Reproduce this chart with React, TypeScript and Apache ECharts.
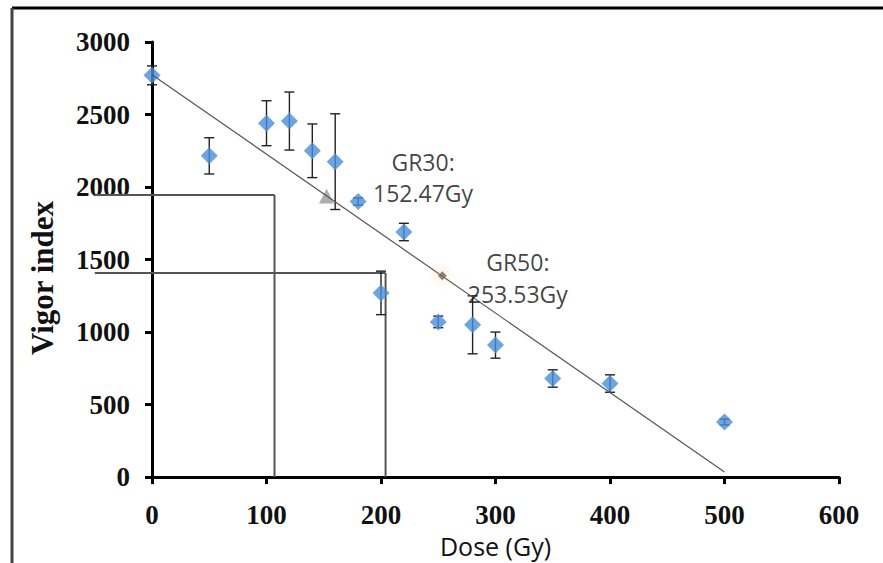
import React, { useEffect, useRef } from "react";
import * as echarts from "echarts";

// Dose (Gy) and vigor index means with error (±)
const doses = [0, 50, 100, 120, 140, 160, 180, 200, 220, 250, 280, 300, 350, 400, 500];
const vigor = [2770, 2215, 2440, 2455, 2250, 2175, 1900, 1270, 1690, 1070, 1050, 910, 680, 645, 380];
const errors = [65, 125, 155, 200, 185, 330, 25, 150, 60, 40, 200, 90, 60, 60, 20];

// Linear fit
const fitX = [0, 500];
const fitY = [2775, 35];

// GR30 / GR50 points
const gr30 = [152.47, 1939];
const gr50 = [253.53, 1388];
const gr30Label = "GR30:\n152.47Gy";
const gr50Label = "GR50:\n253.53Gy";

// Guide lines drawn on the figure
const guide1X = [-50, 107, 107];
const guide1Y = [1945, 1945, 0];
const guide2X = [-50, 204, 204];
const guide2Y = [1408, 1408, 0];

const xTicks = { min: 0, max: 600, interval: 100 };
const yTicks = { min: 0, max: 3000, interval: 500 };

function segments(xs: number[], ys: number[]) {
  const out: number[][] = [];
  for (let i = 0; i < xs.length - 1; i++) out.push([xs[i], ys[i], xs[i + 1], ys[i + 1]]);
  return out;
}

export default function App() {
  const ref = useRef<HTMLDivElement>(null);
  useEffect(() => {
    if (!ref.current) return;
    const chart = echarts.init(ref.current, null, { renderer: "svg" });
    const pts = doses.map((d, i) => [d, vigor[i]]);
    const errData = doses.map((d, i) => [d, vigor[i], errors[i]]);
    const guideData = [...segments(guide1X, guide1Y), ...segments(guide2X, guide2Y)];
    const tickFont = {
      fontFamily: "Liberation Serif",
      fontWeight: "bold" as const,
      fontSize: 27,
      color: "#111",
      formatter: (v: number) => String(v),
    };
    const annFont = {
      fontFamily: "Open Sans",
      fontSize: 23,
      color: "#111",
    };
    chart.setOption({
      animation: false,
      backgroundColor: "#fff",
      grid: { left: 152, right: 44, top: 42, bottom: 79 },
      xAxis: {
        type: "value",
        min: xTicks.min,
        max: xTicks.max,
        interval: xTicks.interval,
        name: "Dose (Gy)",
        nameLocation: "middle",
        nameGap: 40,
        nameTextStyle: { fontFamily: "Open Sans", fontSize: 25, color: "#111" },
        axisLine: { lineStyle: { color: "#000", width: 3 } },
        axisTick: { show: true, length: 7, lineStyle: { color: "#000", width: 3 } },
        axisLabel: { ...tickFont, margin: 24 },
        splitLine: { show: false },
      },
      yAxis: {
        type: "value",
        min: yTicks.min,
        max: yTicks.max,
        interval: yTicks.interval,
        axisLine: { show: true, lineStyle: { color: "#000", width: 3 } },
        axisTick: { show: true, length: 7, lineStyle: { color: "#000", width: 3 } },
        axisLabel: { ...tickFont, margin: 22 },
        splitLine: { show: false },
      },
      graphic: [
        {
          type: "line",
          shape: { x1: 12, y1: 8, x2: 883, y2: 8 },
          style: { stroke: "#000", lineWidth: 3 },
        },
        {
          type: "line",
          shape: { x1: 12, y1: 8, x2: 12, y2: 563 },
          style: { stroke: "#444", lineWidth: 3 },
        },
        {
          type: "text",
          x: 42,
          y: 278,
          rotation: Math.PI / 2,
          style: {
            text: "Vigor index",
            fontFamily: "Liberation Serif",
            fontWeight: "bold",
            fontSize: 31,
            fill: "#111",
            align: "center",
            verticalAlign: "middle",
          },
        },
      ],
      series: [
        {
          type: "custom",
          data: guideData,
          z: 1,
          clip: false,
          renderItem: (params: any, api: any) => {
            const a = api.coord([api.value(0), api.value(1)]);
            const b = api.coord([api.value(2), api.value(3)]);
            return {
              type: "line",
              shape: { x1: a[0], y1: a[1], x2: b[0], y2: b[1] },
              style: { stroke: "#555", lineWidth: 2 },
            };
          },
        },
        {
          type: "custom",
          data: errData,
          z: 2,
          renderItem: (params: any, api: any) => {
            const x = api.value(0);
            const y = api.value(1);
            const e = api.value(2);
            const top = api.coord([x, y + e]);
            const bot = api.coord([x, y - e]);
            const hw = 5;
            const st = { stroke: "#222", lineWidth: 1.4 };
            return {
              type: "group",
              children: [
                { type: "line", shape: { x1: top[0], y1: top[1], x2: bot[0], y2: bot[1] }, style: st },
                { type: "line", shape: { x1: top[0] - hw, y1: top[1], x2: top[0] + hw, y2: top[1] }, style: st },
                { type: "line", shape: { x1: bot[0] - hw, y1: bot[1], x2: bot[0] + hw, y2: bot[1] }, style: st },
              ],
            };
          },
        },
        {
          type: "scatter",
          data: pts,
          symbol: "diamond",
          symbolSize: 17,
          itemStyle: { color: "#4a8fd8" },
          z: 3,
        },
        {
          type: "line",
          data: fitX.map((x, i) => [x, fitY[i]]),
          showSymbol: false,
          lineStyle: { color: "#555", width: 1.2 },
          z: 4,
        },
        {
          type: "scatter",
          data: [gr30],
          symbol: "triangle",
          symbolSize: 15,
          itemStyle: { color: "#9a9a9a" },
          z: 3,
          label: {
            show: true,
            formatter: () => gr30Label,
            position: [104, -42],
            align: "center",
            verticalAlign: "top",
            lineHeight: 31,
            ...annFont,
          },
        },
        {
          type: "scatter",
          data: [gr50],
          symbol: "diamond",
          symbolSize: 9,
          itemStyle: {
            color: "#666",
            shadowColor: "rgba(255,170,40,0.9)",
            shadowBlur: 10,
          },
          z: 5,
          label: {
            show: true,
            formatter: () => gr50Label,
            position: [80, -25],
            align: "center",
            verticalAlign: "top",
            lineHeight: 32,
            ...annFont,
          },
        },
      ],
    });
    return () => chart.dispose();
  }, []);
  return <div ref={ref} style={{ width: 883, height: 563, position: "absolute", left: 0, top: 0 }} />;
}
